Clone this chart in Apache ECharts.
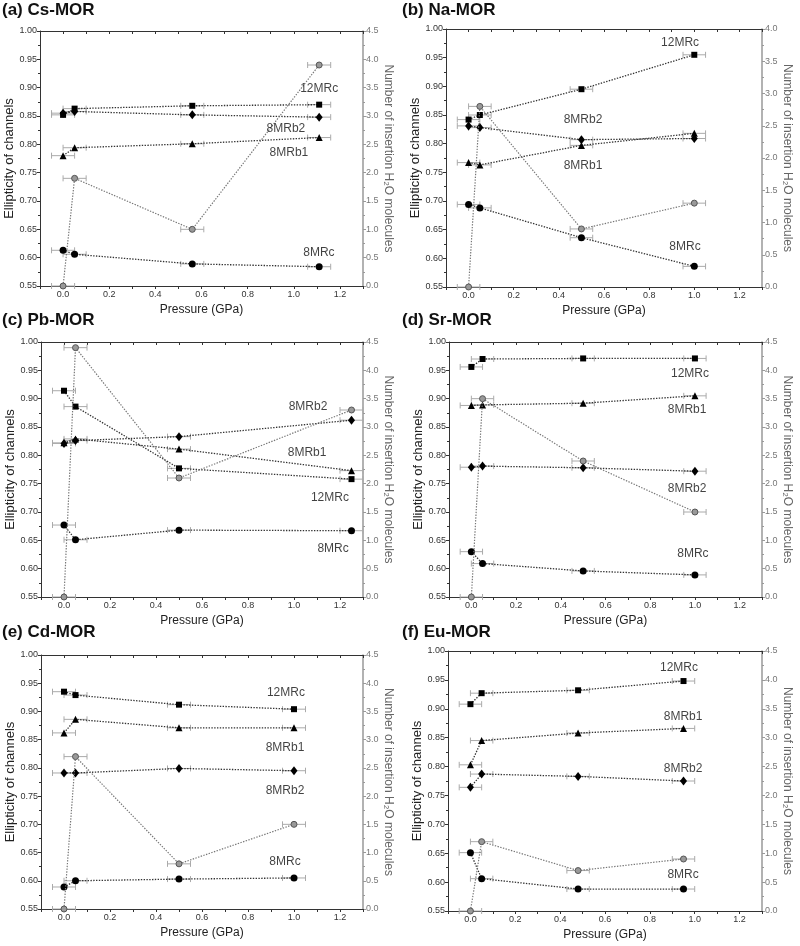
<!DOCTYPE html>
<html>
<head>
<meta charset="utf-8">
<script src="https://cdn.jsdelivr.net/npm/echarts@6/dist/echarts.min.js"></script>
<style>
  html, body { margin: 0; padding: 0; background: #fff; }
  #chart { width: 800px; height: 946px; }
</style>
</head>
<body>
<div id="chart"></div>
<script>
// ---- data ----
const pressureErr = 0.05;

const csP   = [0, 0.05, 0.56, 1.11];
const cs12  = [0.852, 0.863, 0.868, 0.870];
const csB2  = [0.855, 0.858, 0.852, 0.848];
const csB1  = [0.780, 0.794, 0.801, 0.812];
const cs8c  = [0.613, 0.606, 0.589, 0.584];
const csH2O = [0, 1.9, 1.0, 3.9];

const naP   = [0, 0.05, 0.5, 1.0];
const na12  = [0.842, 0.850, 0.895, 0.955];
const naB2  = [0.831, 0.828, 0.807, 0.809];
const naB1  = [0.767, 0.763, 0.797, 0.818];
const na8c  = [0.694, 0.688, 0.636, 0.586];
const naH2O = [0, 2.8, 0.9, 1.3];

const pbP   = [0, 0.05, 0.5, 1.25];
const pb12  = [0.914, 0.886, 0.777, 0.758];
const pbB2  = [0.821, 0.826, 0.833, 0.862];
const pbB1  = [0.822, 0.829, 0.811, 0.773];
const pb8c  = [0.677, 0.651, 0.668, 0.667];
const pbH2O = [0, 4.4, 2.1, 3.3];

const srP   = [0, 0.05, 0.5, 1.0];
const sr12  = [0.956, 0.970, 0.971, 0.971];
const srB2  = [0.779, 0.781, 0.778, 0.772];
const srB1  = [0.888, 0.889, 0.892, 0.905];
const sr8c  = [0.630, 0.609, 0.596, 0.589];
const srH2O = [0, 3.5, 2.4, 1.5];

const cdP   = [0, 0.05, 0.5, 1.0];
const cd12  = [0.935, 0.929, 0.912, 0.904];
const cdB2  = [0.791, 0.791, 0.799, 0.795];
const cdB1  = [0.862, 0.886, 0.871, 0.871];
const cd8c  = [0.589, 0.600, 0.603, 0.605];
const cdH2O = [0, 2.7, 0.8, 1.5];

const euP   = [0, 0.05, 0.48, 0.95];
const eu12  = [0.908, 0.927, 0.932, 0.948];
const euB2  = [0.764, 0.787, 0.783, 0.775];
const euB1  = [0.803, 0.845, 0.858, 0.866];
const eu8c  = [0.651, 0.606, 0.588, 0.588];
const euH2O = [0, 1.2, 0.7, 0.9];

// ---- layout of the six panels ----
const FONT = 'Liberation Sans, Arial, sans-serif';
const panels = [
  { title: '(a) Cs-MOR', tx: 2, ty: 2, p: csP, s12: cs12, b2: csB2, b1: csB1, c8: cs8c, h2o: csH2O, h2oMax: 4.5,
    grid: { left: 40, top: 31, width: 323, height: 255 },
    tags: [['12MRc', 1.11, 0.899], ['8MRb2', 0.966, 0.827], ['8MRb1', 0.979, 0.785], ['8MRc', 1.109, 0.608]] },
  { title: '(b) Na-MOR', tx: 402, ty: 2, p: naP, s12: na12, b2: naB2, b1: naB1, c8: na8c, h2o: naH2O, h2oMax: 4.0,
    grid: { left: 446, top: 29, width: 316, height: 258 },
    tags: [['12MRc', 0.937, 0.976], ['8MRb2', 0.507, 0.841], ['8MRb1', 0.507, 0.761], ['8MRc', 0.959, 0.620]] },
  { title: '(c) Pb-MOR', tx: 2, ty: 312, p: pbP, s12: pb12, b2: pbB2, b1: pbB1, c8: pb8c, h2o: pbH2O, h2oMax: 4.5,
    grid: { left: 41, top: 342, width: 322, height: 255 },
    tags: [['8MRb2', 1.061, 0.885], ['8MRb1', 1.057, 0.804], ['12MRc', 1.156, 0.726], ['8MRc', 1.17, 0.635]] },
  { title: '(d) Sr-MOR', tx: 402, ty: 312, p: srP, s12: sr12, b2: srB2, b1: srB1, c8: sr8c, h2o: srH2O, h2oMax: 4.5,
    grid: { left: 449, top: 342, width: 313, height: 255 },
    tags: [['12MRc', 0.978, 0.944], ['8MRb1', 0.965, 0.880], ['8MRb2', 0.965, 0.741], ['8MRc', 0.991, 0.626]] },
  { title: '(e) Cd-MOR', tx: 2, ty: 624, p: cdP, s12: cd12, b2: cdB2, b1: cdB1, c8: cd8c, h2o: cdH2O, h2oMax: 4.5,
    grid: { left: 41, top: 655, width: 322, height: 254 },
    tags: [['12MRc', 0.965, 0.934], ['8MRb1', 0.961, 0.835], ['8MRb2', 0.961, 0.759], ['8MRc', 0.961, 0.633]] },
  { title: '(f) Eu-MOR', tx: 402, ty: 624, p: euP, s12: eu12, b2: euB2, b1: euB1, c8: eu8c, h2o: euH2O, h2oMax: 4.5,
    grid: { left: 448, top: 651, width: 314, height: 260 },
    tags: [['12MRc', 0.93, 0.971], ['8MRb1', 0.948, 0.886], ['8MRb2', 0.948, 0.797], ['8MRc', 0.948, 0.612]] }
];

const errBar = function (params, api) {
  const x = api.value(0), y = api.value(1), e = api.value(2);
  const a = api.coord([x - e, y]);
  const b = api.coord([x + e, y]);
  const st = { stroke: '#aaa', lineWidth: 1 };
  return {
    type: 'group',
    children: [
      { type: 'line', shape: { x1: a[0], y1: a[1], x2: b[0], y2: b[1] }, style: st },
      { type: 'line', shape: { x1: a[0], y1: a[1] - 3, x2: a[0], y2: a[1] + 3 }, style: st },
      { type: 'line', shape: { x1: b[0], y1: b[1] - 3, x2: b[0], y2: b[1] + 3 }, style: st }
    ]
  };
};

const grids = [], xAxes = [], yAxes = [], series = [], titles = [];

panels.forEach(function (pn, i) {
  grids.push(pn.grid);
  titles.push({
    text: pn.title, left: pn.tx, top: pn.ty, padding: 0,
    textStyle: { fontFamily: FONT, fontSize: 17, fontWeight: 'bold', color: '#111' }
  });
  xAxes.push({
    type: 'value', gridIndex: i, min: -0.1, max: 1.3, interval: 0.1,
    name: 'Pressure (GPa)', nameLocation: 'middle', nameGap: 18,
    nameTextStyle: { fontFamily: FONT, fontSize: 12, color: '#222' },
    axisLine: { show: true, onZero: false, lineStyle: { color: '#333' } },
    axisTick: { length: 3, lineStyle: { color: '#333' } },
    axisLabel: {
      fontFamily: FONT, fontSize: 9, color: '#333', margin: 4, showMinLabel: true, showMaxLabel: true,
      formatter: function (v) { const k = Math.round(v * 10); return (k % 2 === 0 && k >= 0 && k <= 12) ? (k / 10).toFixed(1) : ''; }
    },
    splitLine: { show: false }
  });
  xAxes.push({
    type: 'value', gridIndex: i, position: 'top', min: -0.1, max: 1.3, interval: 0.1,
    axisLine: { show: true, onZero: false, lineStyle: { color: '#333' } },
    axisTick: { inside: true, length: 3, lineStyle: { color: '#333' } },
    axisLabel: { show: false }, splitLine: { show: false }
  });
  yAxes.push({
    type: 'value', gridIndex: i, min: 0.55, max: 1.0, interval: 0.05,
    name: 'Ellipticity of channels', nameLocation: 'middle', nameGap: 20,
    nameTextStyle: { fontFamily: FONT, fontSize: 13, color: '#222' },
    axisLine: { show: true, onZero: false, lineStyle: { color: '#333' } },
    axisTick: { length: 3, lineStyle: { color: '#333' } },
    minorTick: { show: true, splitNumber: 2, length: 2, lineStyle: { color: '#333' } },
    axisLabel: { fontFamily: FONT, fontSize: 9, color: '#333', margin: 3, formatter: function (v) { return v.toFixed(2); } },
    splitLine: { show: false }
  });
  yAxes.push({
    type: 'value', gridIndex: i, position: 'right', min: 0, max: pn.h2oMax, interval: 0.5,
    name: 'Number of insertion H\u2082O molecules', nameLocation: 'middle', nameGap: 19, nameRotate: -90,
    nameTextStyle: { fontFamily: FONT, fontSize: 12, color: '#666' },
    axisLine: { show: true, onZero: false, lineStyle: { color: '#999', width: 1.5 } },
    axisTick: { length: 3, lineStyle: { color: '#999' } },
    minorTick: { show: true, splitNumber: 2, length: 2, lineStyle: { color: '#999' } },
    axisLabel: { fontFamily: FONT, fontSize: 9, color: '#777', margin: 3, formatter: function (v) { return v.toFixed(1); } },
    splitLine: { show: false }
  });

  const xi = 2 * i, yl = 2 * i, yr = 2 * i + 1;
  const pts = function (arr) { return pn.p.map(function (x, k) { return [x, arr[k]]; }); };
  const errs = function (arr) { return pn.p.map(function (x, k) { return [x, arr[k], pressureErr]; }); };

  series.push({
    type: 'custom', xAxisIndex: xi, yAxisIndex: yl, renderItem: errBar, z: 1, silent: true,
    encode: { x: 0, y: 1 },
    data: errs(pn.s12).concat(errs(pn.b2), errs(pn.b1), errs(pn.c8))
  });
  series.push({
    type: 'custom', xAxisIndex: xi, yAxisIndex: yr, renderItem: errBar, z: 1, silent: true,
    encode: { x: 0, y: 1 }, data: errs(pn.h2o)
  });

  const lineSeries = [
    ['12MRc', pn.s12, 'rect', 6],
    ['8MRb2', pn.b2, 'diamond', [7, 9]],
    ['8MRb1', pn.b1, 'triangle', 7],
    ['8MRc', pn.c8, 'circle', 7]
  ];
  lineSeries.forEach(function (ls) {
    series.push({
      type: 'line', name: ls[0], xAxisIndex: xi, yAxisIndex: yl, z: 3,
      data: pts(ls[1]), symbol: ls[2], symbolSize: ls[3], showAllSymbol: true,
      lineStyle: { color: '#333', width: 1.3, type: [1.4, 1.4] },
      itemStyle: { color: '#000' }
    });
  });
  series.push({
    type: 'line', name: 'H2O', xAxisIndex: xi, yAxisIndex: yr, z: 4,
    data: pts(pn.h2o), symbol: 'circle', symbolSize: 6,
    lineStyle: { color: '#777', width: 1.2, type: [1.4, 1.4] },
    itemStyle: { color: '#999', borderColor: '#555', borderWidth: 1 }
  });
  series.push({
    type: 'scatter', xAxisIndex: xi, yAxisIndex: yl, symbolSize: 0, silent: true, z: 5,
    data: pn.tags.map(function (t) { return { name: t[0], value: [t[1], t[2]] }; }),
    label: { show: true, position: 'inside', formatter: '{b}', fontFamily: FONT, fontSize: 12, color: '#111' }
  });
});

const chart = echarts.init(document.getElementById('chart'));
chart.setOption({
  backgroundColor: '#fff',
  animation: false,
  title: titles,
  grid: grids,
  xAxis: xAxes,
  yAxis: yAxes,
  series: series
});
</script>
</body>
</html>
